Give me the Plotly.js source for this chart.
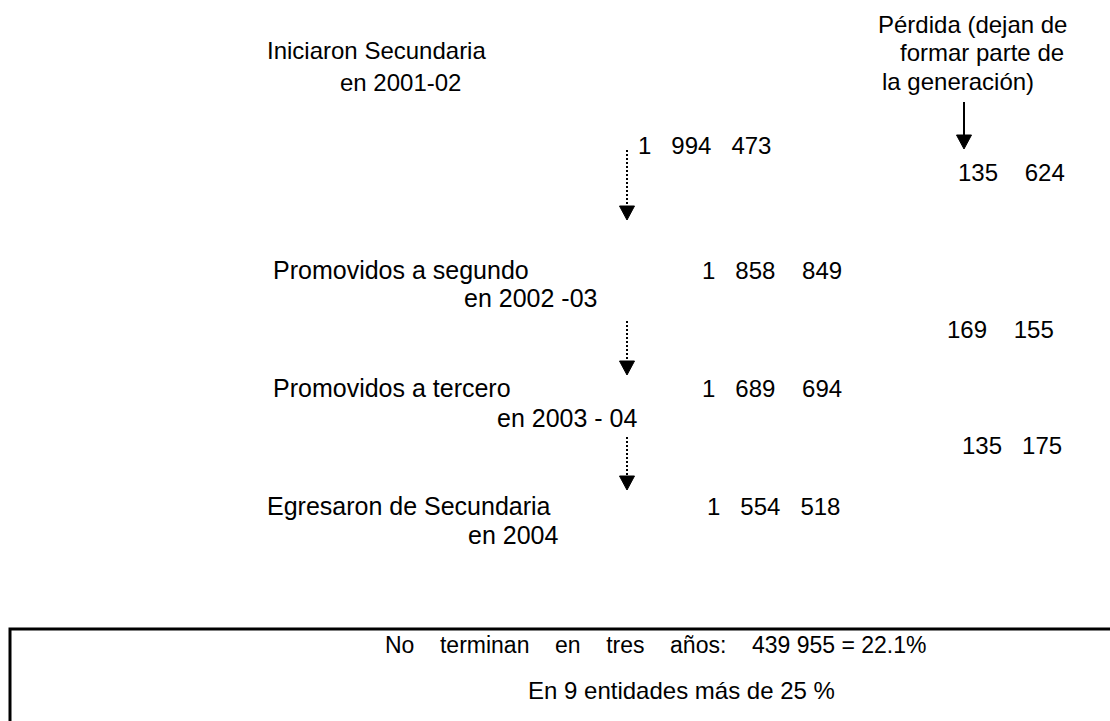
<!DOCTYPE html>
<html>
<head>
<meta charset="utf-8">
<script src="https://cdn.plot.ly/plotly-3.0.1.min.js"></script>
<style>html,body{margin:0;padding:0;background:#fff;}#chart{width:1110px;height:721px;}</style>
</head>
<body>
<div id="chart"></div>
<script>
// ---- content ----
const stageLabels = ["Iniciaron Secundaria", "Promovidos a segundo", "Promovidos a tercero", "Egresaron de Secundaria"];
const stageYears = ["en 2001-02", "en 2002 -03", "en 2003 - 04", "en 2004"];
const stageCounts = ["1   994   473", "1   858    849", "1   689    694", "1   554   518"];
const lossCounts = ["135    624", "169    155", "135   175"];
const lossHeader = ["Pérdida (dejan de", "formar parte de", "la generación)"];
const summaryLines = ["No    terminan    en    tres    años:    439 955 = 22.1%", "En 9 entidades más de 25 %"];

// ---- layout positions (pixels) and sizes ----
const stageLabelX = [265, 271, 271, 265], stageLabelY = [50, 270, 388, 506];
const stageYearX = [338, 462, 495, 466], stageYearY = [82, 298, 418, 535];
const stageSize = [24, 25, 25, 25];
const countX = [636, 700, 700, 705], countY = [145, 270, 388, 506];
const lossX = [956, 945, 960], lossY = [172, 329, 445];
const headerX = [876, 898, 880], headerY = [24, 52, 81];
const summaryX = [383, 526], summaryY = [645, 690];
const summarySize = [23, 24];
const flowX = [627, 627, 627], flowTop = [150, 321, 437], flowTip = [220, 375, 490];
const lossArrowX = 964, lossArrowTop = 102, lossArrowTip = 149;
const headW = 15, headH = 14;
const box = {x0: 10, y0: 629};

const FONT = {family: "Arial, 'Liberation Sans', sans-serif", size: 24, color: "#000"};
const nb = s => s.replace(/ /g, "\u00a0");

const annotations = [];
function addText(t, x, y, size) {
  annotations.push({text: nb(t), x: x, y: y, xref: "x", yref: "y", xanchor: "left", yanchor: "middle",
    showarrow: false, font: Object.assign({}, FONT, size ? {size: size} : {})});
}
stageLabels.forEach((t, i) => addText(t, stageLabelX[i], stageLabelY[i], stageSize[i]));
stageYears.forEach((t, i) => addText(t, stageYearX[i], stageYearY[i], stageSize[i]));
stageCounts.forEach((t, i) => addText(t, countX[i], countY[i], 24));
lossCounts.forEach((t, i) => addText(t, lossX[i], lossY[i], 24));
lossHeader.forEach((t, i) => addText(t, headerX[i], headerY[i], 24));
summaryLines.forEach((t, i) => addText(t, summaryX[i], summaryY[i], summarySize[i]));

const traces = [];
function arrow(x, top, tip, dash) {
  traces.push({x: [x, x], y: [top, tip - headH + 1], mode: "lines", hoverinfo: "skip",
    line: {color: "#000", width: 2, dash: dash}, showlegend: false});
  traces.push({x: [x - headW / 2, x + headW / 2, x, x - headW / 2], y: [tip - headH, tip - headH, tip, tip - headH],
    mode: "lines", fill: "toself", fillcolor: "#000", line: {color: "#000", width: 1}, hoverinfo: "skip", showlegend: false});
}
flowX.forEach((x, i) => arrow(x, flowTop[i], flowTip[i], "2px,2px"));
arrow(lossArrowX, lossArrowTop, lossArrowTip, "solid");

const layout = {
  width: 1110, height: 721, margin: {l: 0, r: 0, t: 0, b: 0},
  paper_bgcolor: "#fff", plot_bgcolor: "#fff",
  xaxis: {range: [0, 1110], visible: false, fixedrange: true},
  yaxis: {range: [721, 0], visible: false, fixedrange: true},
  annotations: annotations,
  shapes: [{type: "rect", xref: "x", yref: "y", x0: box.x0, x1: 1130, y0: box.y0, y1: 740,
    line: {color: "#000", width: 3}, fillcolor: "rgba(0,0,0,0)"}],
  showlegend: false
};
Plotly.newPlot("chart", traces, layout, {displayModeBar: false, staticPlot: true});
</script>
</body>
</html>
